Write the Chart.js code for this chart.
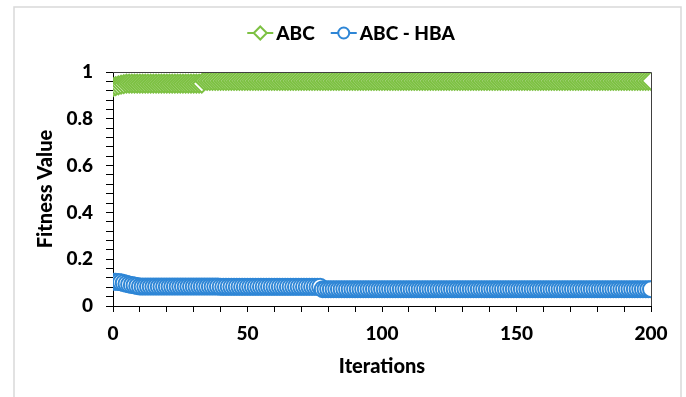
<!DOCTYPE html>
<html><head><meta charset="utf-8">
<script src="https://cdn.jsdelivr.net/npm/chart.js@4"></script>
<style>html,body{margin:0;padding:0;background:#fff}#wrap{width:686px;height:397px;position:relative}</style>
</head><body><div id="wrap"><canvas id="c" width="686" height="397"></canvas></div>
<script>
const iterations = [
  0,1,2,3,4,5,6,7,8,9,
  10,11,12,13,14,15,16,17,18,19,
  20,21,22,23,24,25,26,27,28,29,
  30,31,32,33,34,35,36,37,38,39,
  40,41,42,43,44,45,46,47,48,49,
  50,51,52,53,54,55,56,57,58,59,
  60,61,62,63,64,65,66,67,68,69,
  70,71,72,73,74,75,76,77,78,79,
  80,81,82,83,84,85,86,87,88,89,
  90,91,92,93,94,95,96,97,98,99,
  100,101,102,103,104,105,106,107,108,109,
  110,111,112,113,114,115,116,117,118,119,
  120,121,122,123,124,125,126,127,128,129,
  130,131,132,133,134,135,136,137,138,139,
  140,141,142,143,144,145,146,147,148,149,
  150,151,152,153,154,155,156,157,158,159,
  160,161,162,163,164,165,166,167,168,169,
  170,171,172,173,174,175,176,177,178,179,
  180,181,182,183,184,185,186,187,188,189,
  190,191,192,193,194,195,196,197,198,199,
  200
];
const abcValues = [
  0.935,0.940,0.943,0.946,0.948,0.950,0.950,0.950,0.950,0.950,
  0.950,0.950,0.950,0.950,0.950,0.950,0.950,0.950,0.950,0.950,
  0.950,0.950,0.950,0.950,0.950,0.950,0.950,0.950,0.950,0.950,
  0.950,0.950,0.950,0.950,0.962,0.962,0.962,0.962,0.962,0.962,
  0.962,0.962,0.962,0.962,0.962,0.962,0.962,0.962,0.962,0.962,
  0.962,0.962,0.962,0.962,0.962,0.962,0.962,0.962,0.962,0.962,
  0.962,0.962,0.962,0.962,0.962,0.962,0.962,0.962,0.962,0.962,
  0.962,0.962,0.962,0.962,0.962,0.962,0.962,0.962,0.962,0.962,
  0.962,0.962,0.962,0.962,0.962,0.962,0.962,0.962,0.962,0.962,
  0.962,0.962,0.962,0.962,0.962,0.962,0.962,0.962,0.962,0.962,
  0.962,0.962,0.962,0.962,0.962,0.962,0.962,0.962,0.962,0.962,
  0.962,0.962,0.962,0.962,0.962,0.962,0.962,0.962,0.962,0.962,
  0.962,0.962,0.962,0.962,0.962,0.962,0.962,0.962,0.962,0.962,
  0.962,0.962,0.962,0.962,0.962,0.962,0.962,0.962,0.962,0.962,
  0.962,0.962,0.962,0.962,0.962,0.962,0.962,0.962,0.962,0.962,
  0.962,0.962,0.962,0.962,0.962,0.962,0.962,0.962,0.962,0.962,
  0.962,0.962,0.962,0.962,0.962,0.962,0.962,0.962,0.962,0.962,
  0.962,0.962,0.962,0.962,0.962,0.962,0.962,0.962,0.962,0.962,
  0.962,0.962,0.962,0.962,0.962,0.962,0.962,0.962,0.962,0.962,
  0.962,0.962,0.962,0.962,0.962,0.962,0.962,0.962,0.962,0.962,
  0.962
];
const hbaValues = [
  0.104,0.104,0.103,0.101,0.098,0.095,0.092,0.090,0.088,0.086,
  0.083,0.083,0.083,0.083,0.083,0.083,0.083,0.083,0.083,0.083,
  0.083,0.083,0.083,0.083,0.083,0.083,0.083,0.083,0.083,0.083,
  0.083,0.083,0.083,0.083,0.083,0.083,0.083,0.083,0.083,0.083,
  0.082,0.082,0.082,0.082,0.082,0.082,0.082,0.082,0.082,0.082,
  0.082,0.082,0.082,0.082,0.082,0.082,0.082,0.082,0.082,0.082,
  0.082,0.082,0.082,0.082,0.082,0.082,0.082,0.082,0.082,0.082,
  0.082,0.082,0.082,0.082,0.082,0.082,0.082,0.082,0.072,0.072,
  0.072,0.072,0.072,0.072,0.072,0.072,0.072,0.072,0.072,0.072,
  0.072,0.072,0.072,0.072,0.072,0.072,0.072,0.072,0.072,0.072,
  0.072,0.072,0.072,0.072,0.072,0.072,0.072,0.072,0.072,0.072,
  0.072,0.072,0.072,0.072,0.072,0.072,0.072,0.072,0.072,0.072,
  0.072,0.072,0.072,0.072,0.072,0.072,0.072,0.072,0.072,0.072,
  0.072,0.072,0.072,0.072,0.072,0.072,0.072,0.072,0.072,0.072,
  0.072,0.072,0.072,0.072,0.072,0.072,0.072,0.072,0.072,0.072,
  0.072,0.072,0.072,0.072,0.072,0.072,0.072,0.072,0.072,0.072,
  0.072,0.072,0.072,0.072,0.072,0.072,0.072,0.072,0.072,0.072,
  0.072,0.072,0.072,0.072,0.072,0.072,0.072,0.072,0.072,0.072,
  0.072,0.072,0.072,0.072,0.072,0.072,0.072,0.072,0.072,0.072,
  0.072,0.072,0.072,0.072,0.072,0.072,0.072,0.072,0.072,0.072,
  0.072
];
const seriesNames = ['ABC', 'ABC - HBA'];
const xTickLabels = [0, 50, 100, 150, 200];
const yTickLabels = [0, 0.2, 0.4, 0.6, 0.8, 1];
const xTitle = 'Iterations';
const yTitle = 'Fitness Value';

const GREEN = '#7dc143';
const BLUE = '#2e86d6';
const FONT = 'Lato, "Liberation Sans", sans-serif';
const WEIGHT = '900';

function pts(vals) { return iterations.map((x, i) => ({ x: x, y: vals[i] })); }

const framePlugin = {
  id: 'frame',
  beforeDraw(chart) {
    const ctx = chart.ctx;
    ctx.save();
    ctx.fillStyle = '#fff';
    ctx.fillRect(0, 0, chart.width, chart.height);
    ctx.strokeStyle = '#d9d9d9';
    ctx.lineWidth = 1.5;
    ctx.strokeRect(14, 7, 667, 391);
    ctx.restore();
  },
  afterDraw(chart) {
    const ctx = chart.ctx;
    const a = chart.chartArea;
    ctx.save();
    ctx.strokeStyle = '#404040';
    ctx.lineWidth = 1;
    ctx.beginPath();
    ctx.moveTo(a.left, a.top + 0.5);
    ctx.lineTo(a.right + 0.5, a.top + 0.5);
    ctx.lineTo(a.right + 0.5, a.bottom);
    ctx.stroke();
    // legend
    ctx.font = WEIGHT + ' 19px ' + FONT;
    ctx.textBaseline = 'middle';
    const lineLen = 26, gapText = 3, gapItem = 16;
    const items = chart.data.datasets.map(ds => ({ ds, w: lineLen + gapText + ctx.measureText(ds.label).width }));
    const total = items.reduce((s, it) => s + it.w, 0) + gapItem * (items.length - 1);
    let x = 351 - total / 2;
    const y = 33;
    items.forEach(it => {
      const ds = it.ds;
      ctx.strokeStyle = ds.borderColor;
      ctx.lineWidth = 2;
      ctx.beginPath();
      ctx.moveTo(x, y);
      ctx.lineTo(x + lineLen, y);
      ctx.stroke();
      ctx.fillStyle = '#fff';
      ctx.beginPath();
      const cx = x + lineLen / 2;
      if (ds.pointStyle === 'circle') {
        ctx.arc(cx, y, 5.5, 0, Math.PI * 2);
      } else {
        const r = 6.5;
        ctx.moveTo(cx, y - r); ctx.lineTo(cx + r, y); ctx.lineTo(cx, y + r); ctx.lineTo(cx - r, y); ctx.closePath();
      }
      ctx.fill(); ctx.stroke();
      ctx.fillStyle = '#000';
      ctx.textAlign = 'left';
      ctx.fillText(ds.label, x + lineLen + gapText, y + 1);
      x += it.w + gapItem;
    });
    ctx.restore();
  }
};

new Chart(document.getElementById('c'), {
  type: 'line',
  data: {
    datasets: [
      {
        label: seriesNames[0], data: pts(abcValues),
        borderColor: GREEN, backgroundColor: '#fff', borderWidth: 2,
        pointStyle: 'rectRot', pointRadius: 9, pointBorderWidth: 2,
        pointBackgroundColor: '#fff', pointBorderColor: GREEN
      },
      {
        label: seriesNames[1], data: pts(hbaValues),
        borderColor: BLUE, backgroundColor: '#fff', borderWidth: 2,
        pointStyle: 'circle', pointRadius: 8, pointBorderWidth: 2,
        pointBackgroundColor: '#fff', pointBorderColor: BLUE
      }
    ]
  },
  options: {
    responsive: false, animation: false, devicePixelRatio: 1,
    layout: { padding: { left: 14, right: 35, top: 72, bottom: 10 } },
    plugins: { legend: { display: false }, tooltip: { enabled: false } },
    scales: {
      x: {
        type: 'linear', min: 0, max: 200,
        afterFit(s) { s.height = 397 - 10 - 306; },
        ticks: {
          stepSize: 10, autoSkip: false, maxRotation: 0, padding: 10,
          color: '#000', font: { family: FONT, size: 19, weight: WEIGHT },
          callback: v => xTickLabels.includes(v) ? String(v) : ''
        },
        grid: { drawOnChartArea: false, tickLength: 6, color: '#000', tickColor: '#000' },
        border: { color: '#000', width: 1 },
        title: { display: true, text: xTitle, color: '#000', padding: { top: 8, bottom: 8 },
          font: { family: FONT, size: 20, weight: WEIGHT } }
      },
      y: {
        min: 0, max: 1,
        afterFit(s) { s.width = 113 - 14; },
        ticks: {
          stepSize: 0.04, autoSkip: false, padding: 13,
          color: '#000', font: { family: FONT, size: 19, weight: WEIGHT },
          callback: v => {
            const r = Math.round(v * 100) / 100;
            return yTickLabels.includes(r) ? String(r) : '';
          }
        },
        grid: { drawOnChartArea: false, tickLength: 7, color: '#000', tickColor: '#000' },
        border: { color: '#000', width: 1 },
        title: { display: true, text: yTitle, color: '#000', padding: { top: 20, bottom: 0 },
          font: { family: FONT, size: 20, weight: WEIGHT } }
      }
    }
  },
  plugins: [framePlugin]
});
</script>
</body></html>
